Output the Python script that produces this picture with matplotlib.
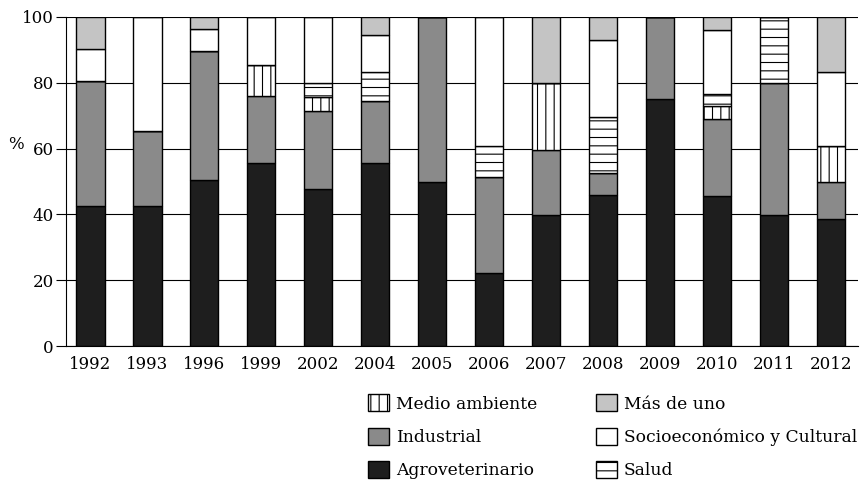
import matplotlib.pyplot as plt
import numpy as np

plt.rcParams['font.family'] = 'DejaVu Serif'
plt.rcParams['hatch.linewidth'] = 0.8

years = ["1992", "1993", "1996", "1999", "2002", "2004", "2005",
         "2006", "2007", "2008", "2009", "2010", "2011", "2012"]

# percentages per area, bottom to top of each bar
agro = [42.6, 42.6, 50.5, 55.6, 47.7, 55.6, 49.7, 22.2, 39.9, 46.0, 75.0, 45.7, 39.9, 38.6]
industrial = [38.0, 22.8, 39.1, 20.5, 23.8, 18.8, 50.3, 29.3, 19.7, 6.7, 25.0, 23.2, 39.9, 11.1]
medio = [0, 0, 0, 9.3, 4.3, 0, 0, 0, 20.2, 0, 0, 4.0, 0, 11.2]
salud = [0, 0, 0, 0, 4.2, 8.9, 0, 9.4, 0, 17.0, 0, 3.7, 20.2, 0]
socio = [9.5, 34.6, 6.6, 14.6, 20.0, 11.1, 0, 39.1, 0, 23.4, 0, 19.4, 0, 22.4]
mas_uno = [9.9, 0, 3.8, 0, 0, 5.6, 0, 0, 20.2, 6.9, 0, 4.0, 0, 16.7]

series = [
    ("Agroveterinario", agro, "#1e1e1e", ""),
    ("Industrial", industrial, "#8a8a8a", ""),
    ("Medio ambiente", medio, "white", "||"),
    ("Salud", salud, "white", "--"),
    ("Socioeconómico y Cultural", socio, "white", ""),
    ("Más de uno", mas_uno, "#c4c4c4", ""),
]

fig = plt.figure(figsize=(8.62, 4.82), dpi=100)
ax = fig.add_axes([0.077, 0.282, 0.918, 0.683])

x = np.arange(len(years))
bottom = np.zeros(len(years))
handles = {}
for name, vals, col, hatch in series:
    vals = np.array(vals)
    bars = ax.bar(x, vals, 0.5, bottom=bottom, color=col, edgecolor="black",
                  linewidth=1.0, hatch=hatch, label=name, zorder=2)
    handles[name] = bars
    bottom += vals

ax.set_xlim(-0.42, 13.47)
ax.set_ylim(0, 100)
ax.set_yticks([0, 20, 40, 60, 80, 100])
ax.set_xticks(x)
ax.set_xticklabels(years)
ax.tick_params(axis="x", length=0, labelsize=12, pad=7)
ax.tick_params(axis="y", length=7, labelsize=12, direction="out", pad=2)
ax.yaxis.grid(True, color="black", linewidth=0.8)
ax.set_axisbelow(True)
for s in ["top", "right"]:
    ax.spines[s].set_visible(False)

fig.text(0.01, 0.69, "%", fontsize=12)

order = ["Medio ambiente", "Industrial", "Agroveterinario",
         "Más de uno", "Socioeconómico y Cultural", "Salud"]
fig.legend([handles[n] for n in order], order, ncol=2, loc="upper left",
           bbox_to_anchor=(0.427, 0.182), frameon=False, fontsize=12.3,
           handlelength=1.25, handleheight=1.15, handletextpad=0.4,
           columnspacing=3.4, labelspacing=0.88, borderaxespad=0,
           borderpad=0)

fig.savefig("out.png", dpi=100)
